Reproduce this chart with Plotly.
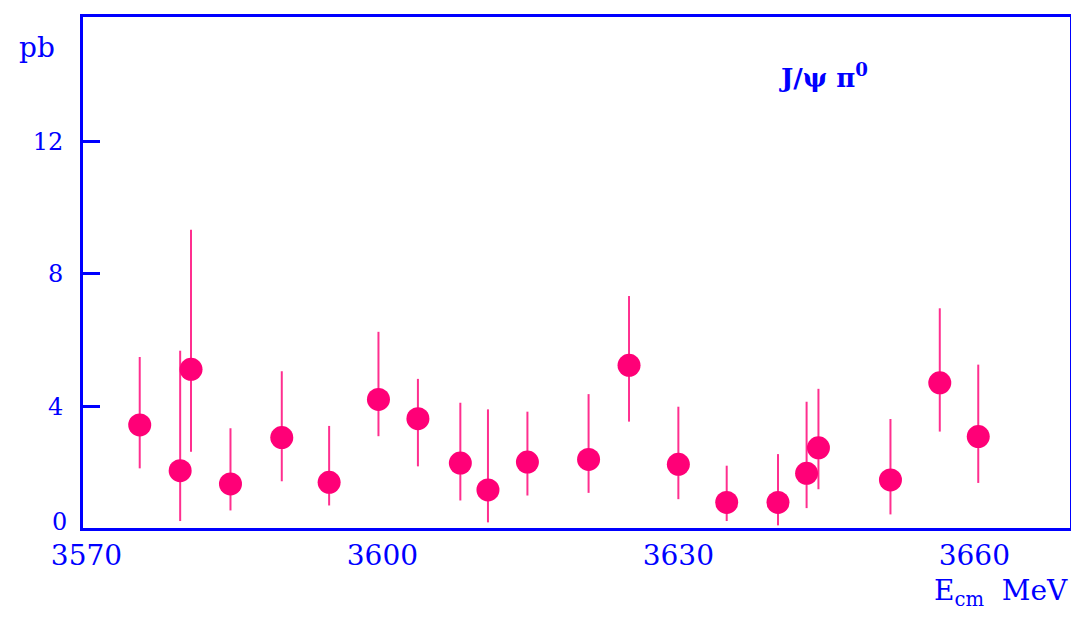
import plotly.graph_objects as go

# Data (E_cm in MeV, cross section in pb)
energy = [3575.4, 3579.5, 3580.6, 3584.6, 3589.8, 3594.6, 3599.6, 3603.6, 3607.9, 3610.7,
          3614.7, 3620.9, 3625.0, 3630.0, 3634.9, 3640.1, 3643.0, 3644.2, 3651.5, 3656.5, 3660.4]
sigma = [3.44, 2.06, 5.12, 1.66, 3.06, 1.71, 4.21, 3.63, 2.29, 1.48,
         2.32, 2.40, 5.24, 2.25, 1.10, 1.10, 1.98, 2.75, 1.78, 4.71, 3.09]
err_up = [2.05, 3.62, 4.21, 1.68, 2.00, 1.70, 2.04, 1.20, 1.82, 2.43,
          1.52, 1.97, 2.09, 1.74, 1.11, 1.46, 2.16, 1.78, 1.84, 2.25, 2.17]
err_down = [1.31, 1.52, 2.49, 0.80, 1.32, 0.70, 1.11, 1.44, 1.13, 0.98,
            1.01, 1.01, 1.70, 1.05, 0.56, 0.69, 1.05, 1.25, 1.04, 1.47, 1.40]

x_ticks = [3570, 3600, 3630, 3660]
x_tick_labels = ["3570", "3600", "3630", "3660"]
y_ticks = [4, 8, 12]
y_tick_labels = ["4", "8", "12"]

BLUE = "#0000FF"
MARKER = "#FF0077"
ERRC = "#FF2F8F"
FONT = "DejaVu Serif"

x_range = [3569.65, 3669.7]
y_range = [0.33, 15.75]

fig = go.Figure()
fig.add_trace(go.Scatter(
    x=energy, y=sigma, mode="markers",
    marker=dict(symbol="circle", size=23, color=MARKER, line=dict(width=0)),
    error_y=dict(type="data", symmetric=False, array=err_up, arrayminus=err_down,
                 color=ERRC, thickness=2, width=0),
    showlegend=False,
))

fig.update_layout(
    width=1071, height=611,
    margin=dict(l=75, r=7, t=6, b=91),
    paper_bgcolor="white", plot_bgcolor="white",
    font=dict(family=FONT, color=BLUE),
    xaxis=dict(range=x_range, tickvals=x_ticks, ticktext=x_tick_labels,
               showgrid=False, zeroline=False, showline=True, linecolor=BLUE,
               linewidth=3, mirror=True, ticks="", ticklabelstandoff=0,
               tickfont=dict(family=FONT, size=28, color=BLUE)),
    yaxis=dict(range=y_range, tickvals=y_ticks, ticktext=y_tick_labels,
               showgrid=False, zeroline=False, showline=True, linecolor=BLUE,
               linewidth=3, mirror=True, ticks="inside", ticklen=17, tickwidth=3,
               tickcolor=BLUE, ticklabelstandoff=12,
               tickfont=dict(family=FONT, size=24, color=BLUE)),
    annotations=[
        dict(text="0", xref="paper", yref="y", x=0, y=y_range[0], xanchor="right",
             yanchor="middle", xshift=-14, yshift=6, showarrow=False,
             font=dict(family=FONT, size=24, color=BLUE)),
        dict(text="pb", xref="paper", yref="paper", x=0, y=1, xanchor="right",
             yanchor="top", xshift=-26, yshift=-12, showarrow=False,
             font=dict(family=FONT, size=28, color=BLUE)),
        dict(text="E<sub>cm</sub>  MeV", xref="paper", yref="paper", x=1, y=0,
             xanchor="right", yanchor="top", xshift=0, yshift=-44, showarrow=False,
             font=dict(family=FONT, size=28, color=BLUE)),
        dict(text="<b>J/ψ π<sup>0</sup></b>", xref="paper", yref="paper", x=0.7035, y=0.885,
             xanchor="left", yanchor="middle", showarrow=False,
             font=dict(family=FONT, size=26, color=BLUE)),
    ],
)

fig.write_html("out.html")
